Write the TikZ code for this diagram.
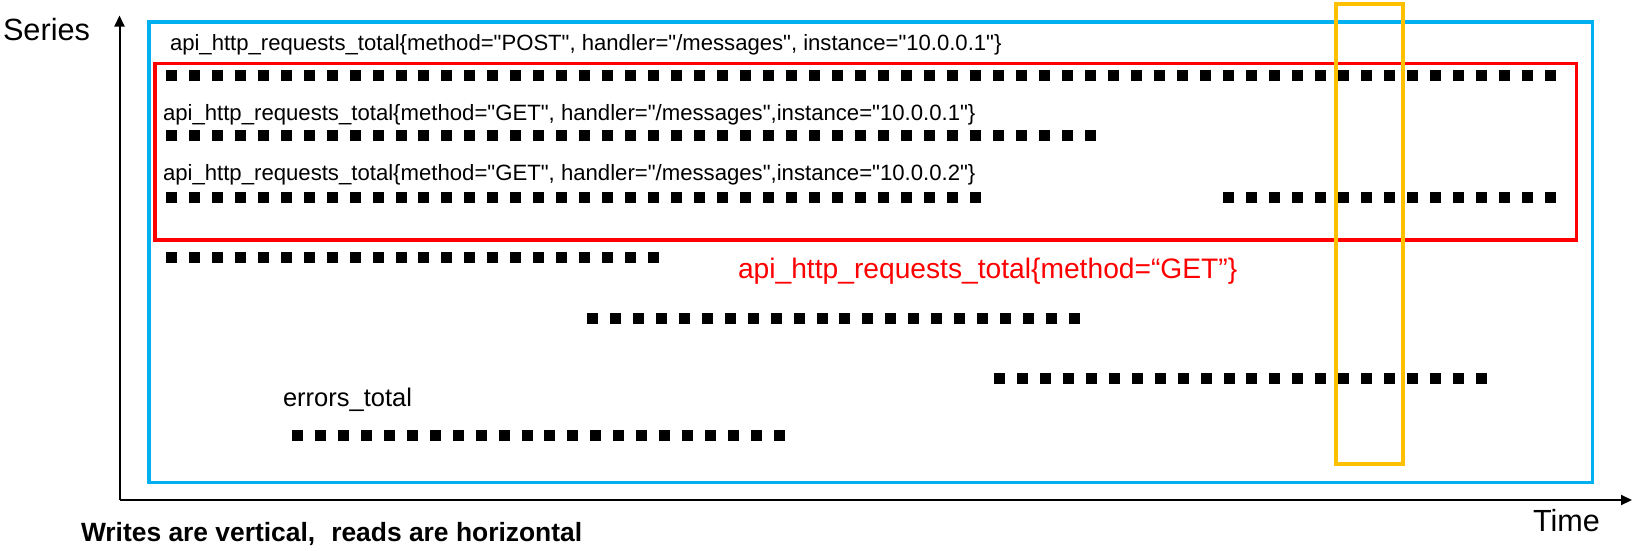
\documentclass[tikz,border=0pt]{standalone}
\usepackage{fontspec}
\setmainfont{Liberation Sans}[Ligatures=TeXOff]
\usetikzlibrary{arrows.meta}
\definecolor{boxblue}{HTML}{00B0F0}
\definecolor{boxred}{HTML}{FF0000}
\definecolor{boxyellow}{HTML}{FFC000}
\newcommand{\sqrow}[4]{% x of first square, last index, centre y, name
  \foreach \k in {0,...,#2} {\fill (#1+\k*22.98,#3-5.5) rectangle ++(11,11);}
  \coordinate (#4) at (#1,#3);}
\begin{document}
\begin{tikzpicture}[x=1pt,y=-1pt,
  lbl/.style={anchor=base west, inner sep=0pt, outer sep=0pt},
  axisline/.style={line width=2pt, -{Triangle[length=11pt,width=10pt]}},
  frame/.style={line width=3.5pt}]
\useasboundingbox (0,0) rectangle (1639,550);

% axes
\coordinate (origin) at (119.5,500);
\coordinate (ytip) at (119.5,15.5);
\coordinate (xtip) at (1632,500);
\draw[axisline] (origin) -- (ytip);
\draw[axisline] (origin) -- (xtip);

% frames
\draw[frame, boxblue] (149,22) rectangle (1592.5,482.3);
\draw[frame, boxred] (155,63.3) rectangle (1576.7,240);

% series rows
\sqrow{165.7}{60}{75.7}{r1}
\sqrow{165.7}{40}{135.5}{r2}
\sqrow{165.7}{35}{197}{r3a}
\sqrow{1222.8}{14}{197}{r3b}
\sqrow{165.7}{21}{257.3}{r4}
\sqrow{586.7}{21}{318}{r5}
\sqrow{993.7}{21}{378.7}{r6}
\sqrow{291.7}{21}{435.3}{r7}

% read window
\draw[line width=4pt, boxyellow] (1336,4.3) rectangle (1403.3,464);

% labels
\node[lbl, font=\fontsize{30.7}{36}\selectfont] (series) at (3,40) {Series};
\node[lbl, font=\fontsize{30.6}{36}\selectfont] (time) at (1533,531.7) {Time};
\node[lbl, font=\fontsize{22.1}{26}\selectfont] (post) at (170,50.7)
  {api\_http\_requests\_total\{method="POST", handler="/messages", instance="10.0.0.1"\}};
\node[lbl, font=\fontsize{22.15}{26}\selectfont] (get1) at (163,120)
  {api\_http\_requests\_total\{method="GET", handler="/messages",instance="10.0.0.1"\}};
\node[lbl, font=\fontsize{22.15}{26}\selectfont] (get2) at (163,180)
  {api\_http\_requests\_total\{method="GET", handler="/messages",instance="10.0.0.2"\}};
\node[lbl, text=boxred, font=\fontsize{28.2}{32}\selectfont] (getsel) at (738,278)
  {api\_http\_requests\_total\{method=“GET”\}};
\node[lbl, font=\fontsize{25.5}{30}\selectfont] (errors) at (283,406) {errors\_total};
\node[lbl, font=\bfseries\fontsize{26.4}{30}\selectfont] (note) at (81,541.7)
  {Writes are vertical,\hspace{16pt}reads are horizontal};
\end{tikzpicture}
\end{document}
